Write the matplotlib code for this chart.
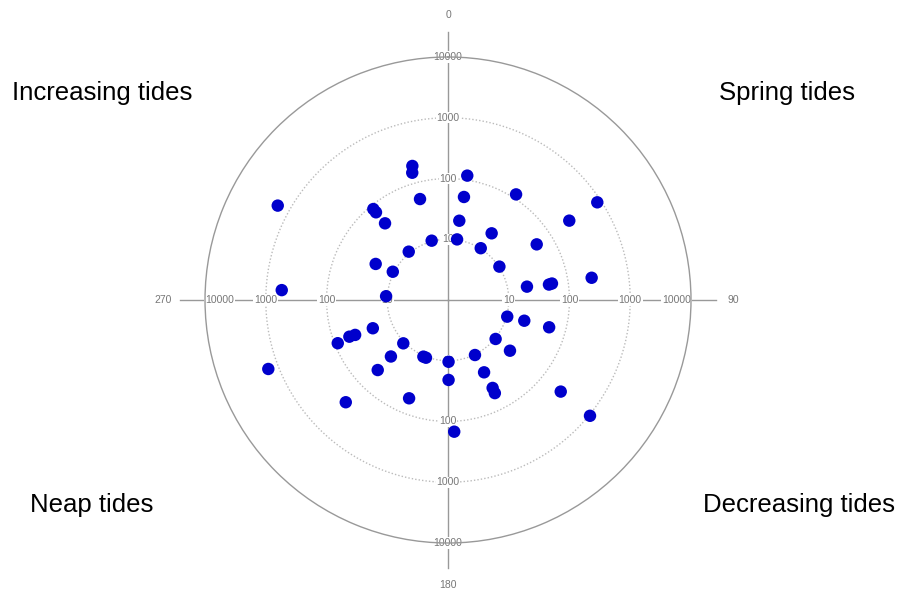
import numpy as np
import matplotlib
matplotlib.use('Agg')
import matplotlib.pyplot as plt

plt.rcParams['font.family'] = ['Liberation Sans', 'DejaVu Sans']

# phase angle (deg, clockwise from north) and radial value (log scale)
theta_deg = [8.8, 8.8, 8.1, 8.5,
             32.8, 33.2, 32.3,
             56.8, 56.8, 57.9, 57.0,
             81.2, 80.4, 81.3, 81.0,
             105.7, 105.2, 105.1,
             129.3, 129.3, 129.1, 129.2,
             153.9, 153.5, 153.1, 153.3,
             179.5, 179.6, 177.3,
             203.5, 200.9, 201.6,
             225.9, 225.3, 225.1, 225.0,
             249.4, 248.6, 249.6, 249.4, 249.0,
             273.4, 273.5,
             299.0, 296.5, 297.1,
             320.6, 320.6, 320.6, 320.9,
             345.1, 344.3, 344.5, 344.6]
values = [118, 52, 20.8, 10.2,
          117, 20.5, 10.2,
          864, 243, 52.9, 10.2,
          247, 20.8, 48, 54,
          10.3, 20, 53,
          10.3, 20.8, 246, 1038,
          10.2, 21.4, 42, 52,
          10.4, 20.7, 148,
          10.4, 10.4, 55,
          10.6, 21, 43, 240,
          21, 89, 54, 43, 1475,
          552, 10.5,
          1603, 21.4, 10.5,
          86.6, 73.8, 43, 10.6,
          192, 150, 53, 10.3]

ring_values = [10, 100, 1000, 10000]
ring_labels = ['10', '100', '1000', '10000']
angle_ticks = [0, 90, 180, 270]
corner_texts = ['Increasing tides', 'Spring tides', 'Neap tides', 'Decreasing tides']

fig = plt.figure(figsize=(8.98, 5.92), dpi=100)
ax = fig.add_axes([0.2283, 0.0828, 0.5412, 0.8209], projection='polar')
ax.set_theta_zero_location('N')
ax.set_theta_direction(-1)
ax.set_rscale('log')
ax.set_rlim(1, 10000)

# grid rings: dotted inner, solid outer
ax.set_rgrids(ring_values[:-1], labels=[''] * 3)
ax.yaxis.grid(True, color='#bbbbbb', linestyle=(0, (1, 1.5)), linewidth=1.0)
ax.xaxis.grid(False)
ax.spines['polar'].set_color('#999999')
ax.spines['polar'].set_linewidth(1.0)

# angle labels
ax.set_thetagrids(angle_ticks, labels=[str(a) for a in angle_ticks])
ax.tick_params(axis='x', pad=20, labelsize=7.5, labelcolor='#777777')

# axis cross lines extending beyond the outer ring
for a in angle_ticks:
    ax.plot([np.radians(a)] * 2, [1, 2.6e4], color='#999999', lw=1.0,
            clip_on=False, zorder=1)

# radial labels on the four axes
for a in angle_ticks:
    for v, lab in zip(ring_values, ring_labels):
        rad = np.radians(a)
        ha = 'center'
        if v == 10000 and a == 90:
            ha = 'right'
        elif v == 10000 and a == 270:
            ha = 'left'
        ax.text(rad, v, lab, ha=ha, va='center', fontsize=7.5, color='#777777',
                bbox=dict(facecolor='white', edgecolor='none', pad=0.5), zorder=2)

ax.scatter(np.radians(theta_deg), values, s=80, color='#0000cc',
           edgecolors='none', zorder=5, clip_on=False)

# quadrant labels
fig.text(12 / 898, 1 - 100 / 592, corner_texts[0], fontsize=18.5, ha='left', va='baseline')
fig.text(855 / 898, 1 - 100 / 592, corner_texts[1], fontsize=18.5, ha='right', va='baseline')
fig.text(30 / 898, 1 - 512 / 592, corner_texts[2], fontsize=18.5, ha='left', va='baseline')
fig.text(895 / 898, 1 - 512 / 592, corner_texts[3], fontsize=18.5, ha='right', va='baseline')

fig.savefig('out.png', dpi=100)
